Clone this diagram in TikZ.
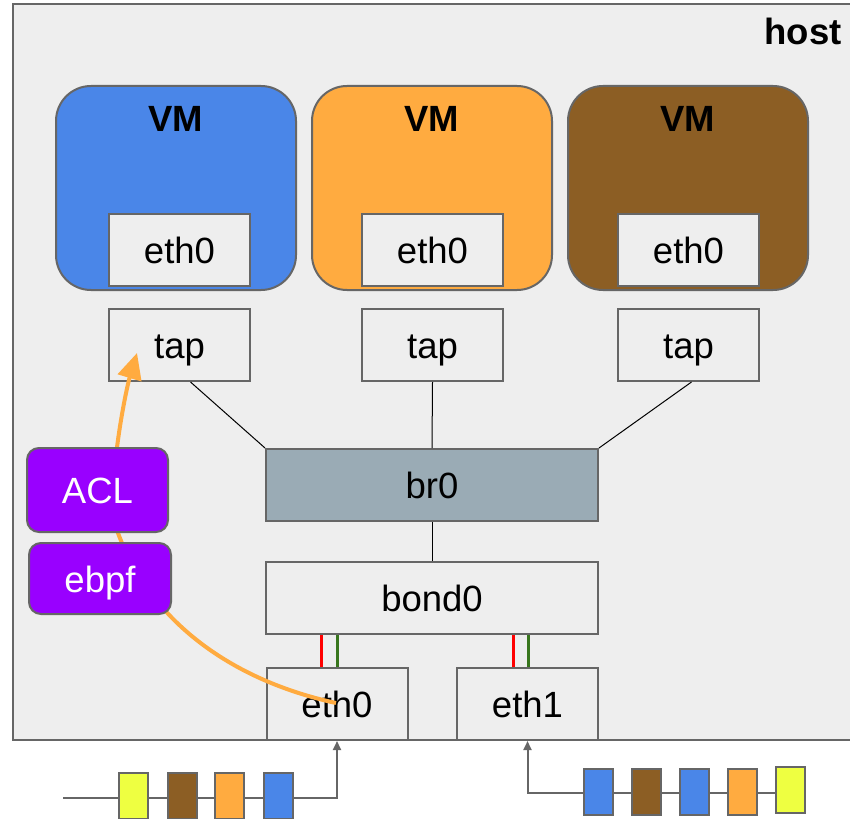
\documentclass[tikz,border=0pt]{standalone}
\usepackage{fontspec}
\setmainfont{Liberation Sans}
\usetikzlibrary{arrows.meta}
\definecolor{bg}{HTML}{EEEEEE}
\definecolor{gry}{HTML}{666666}
\definecolor{vmblue}{HTML}{4A86E8}
\definecolor{vmorange}{HTML}{FFAB40}
\definecolor{vmbrown}{HTML}{8C5E24}
\definecolor{pyellow}{HTML}{EEFF41}
\definecolor{brfill}{HTML}{9AABB5}
\definecolor{purp}{HTML}{9900FF}
\definecolor{lred}{HTML}{FF0000}
\definecolor{lgreen}{HTML}{38761D}
\begin{document}
\begin{tikzpicture}[x=1pt,y=-1pt,
  lbl/.style={font=\fontsize{36.5}{40}\selectfont},
  box/.style={draw=gry, line width=2pt, fill=bg, minimum width=141pt, minimum height=72pt,
    inner sep=0pt, text height=27pt, text depth=0pt, lbl},
  vmbox/.style={draw=gry, line width=2pt, rounded corners=35pt, minimum width=240pt,
    minimum height=204pt, inner sep=0pt},
  vmlbl/.style={anchor=base, font=\fontsize{36.5}{40}\selectfont\bfseries},
  wide/.style={box, minimum width=332pt},
  filt/.style={draw=gry, line width=2pt, fill=purp, rounded corners=12pt, inner sep=0pt,
    text=white, text height=27pt, text depth=0pt, lbl},
  link/.style={black, line width=1pt},
  slave/.style={line width=3pt},
  orng/.style={vmorange, line width=4pt, -{Triangle[width=24pt,length=26pt]}},
  pline/.style={gry, line width=2pt, -{Triangle[width=8pt,length=9pt]}},
  pkt/.style={draw=gry, line width=2pt, minimum width=29pt, minimum height=46pt, inner sep=0pt},
]
\useasboundingbox (0,0) rectangle (850,818);
\clip (0,0) rectangle (850,818);
% host
\draw[gry, line width=2pt, fill=bg] (13,4) rectangle (900,740);
\node[anchor=base east, font=\fontsize{36.5}{40}\selectfont\bfseries] (host) at (845,45) {host};
% VMs
\node[vmbox, fill=vmblue] (vm1) at (176,188) {};
\node[vmbox, fill=vmorange] (vm2) at (432,188) {};
\node[vmbox, fill=vmbrown] (vm3) at (688,188) {};
\node[vmlbl] (vl1) at (176,132) {VM};
\node[vmlbl] (vl2) at (432,132) {VM};
\node[vmlbl] (vl3) at (688,132) {VM};
\node[box] (v1e) at (179.5,250) {eth0};
\node[box] (v2e) at (432.5,250) {eth0};
\node[box] (v3e) at (688.5,250) {eth0};
% taps
\node[box] (t1) at (179.5,345) {tap};
\node[box] (t2) at (432.5,345) {tap};
\node[box] (t3) at (688.5,345) {tap};
% bridge, bond
\node[wide, fill=brfill] (br) at (432,485) {br0};
\node[wide] (bond) at (432,598) {bond0};
\node[box] (e0) at (337,704) {eth0};
\node[box] (e1) at (527.5,704) {eth1};
% links
\draw[link] ([xshift=11pt]t1.south) -- (br.north west);
\draw[link] (t2.south) -- (br.north);
\draw[link] ([xshift=3pt]t3.south) -- (br.north east);
\draw[link] (br.south) -- (bond.north);
\draw[slave, lred] ([xshift=-16pt]e0.north) -- ([xshift=-16pt]e0.north |- bond.south);
\draw[slave, lgreen] ([xshift=0pt]e0.north) -- ([xshift=0pt]e0.north |- bond.south);
\draw[slave, lred] ([xshift=-14.5pt]e1.north) -- ([xshift=-14.5pt]e1.north |- bond.south);
\draw[slave, lgreen] ([xshift=1pt]e1.north) -- ([xshift=1pt]e1.north |- bond.south);
% orange path
\coordinate (src) at (336,703);
\coordinate (tipT) at (137,353);
\draw[orng] (src) .. controls (230,680) and (150,620) .. (118,533)
  .. controls (104,500) and (125,393) .. (tipT);
% filters
\node[filt, minimum width=141pt, minimum height=84pt] (acl) at (97.5,490) {ACL};
\node[filt, minimum width=142pt, minimum height=71pt] (ebpf) at (100,578.5) {ebpf};
% packet lines
\coordinate (inL) at (63,798);
\coordinate (inR) at (790,793);
\draw[pline] (inL) -- (inL -| e0.south) -- (e0.south);
\draw[pline] (inR) -- (inR -| e1.south) -- (e1.south);
% packets left
\node[pkt, fill=pyellow] (pl1) at (133.5,796) {};
\node[pkt, fill=vmbrown] (pl2) at (182,796) {};
\node[pkt, fill=vmorange] (pl3) at (229.5,796) {};
\node[pkt, fill=vmblue] (pl4) at (278,796) {};
% packets right
\node[pkt, fill=vmblue] (pr1) at (598,792) {};
\node[pkt, fill=vmbrown] (pr2) at (646.5,792) {};
\node[pkt, fill=vmblue] (pr3) at (694.5,792) {};
\node[pkt, fill=vmorange] (pr4) at (742.5,792) {};
\node[pkt, fill=pyellow] (pr5) at (790.5,789.5) {};
\end{tikzpicture}
\end{document}
